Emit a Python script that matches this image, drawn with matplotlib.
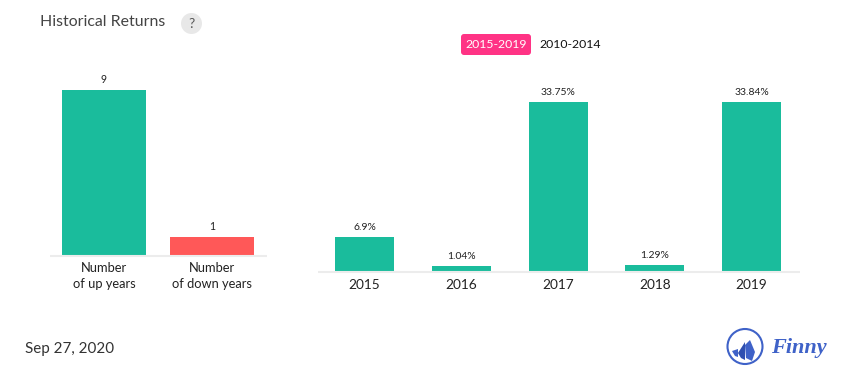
import matplotlib
matplotlib.use("Agg")
import matplotlib.pyplot as plt
from matplotlib.patches import Circle, FancyBboxPatch, Polygon

plt.rcParams['font.family'] = ['Lato', 'DejaVu Sans']

W, H = 855, 382
TEAL = '#1abc9c'
RED = '#ff5858'
PINK = '#ff3385'
AXIS = '#ececec'
DARK = '#222222'

count_labels = ['Number\nof up years', 'Number\nof down years']
count_values = [9, 1]
count_colors = [TEAL, RED]

years = ['2015', '2016', '2017', '2018', '2019']
returns = [6.9, 1.04, 33.75, 1.29, 33.84]
return_labels = ['6.9%', '1.04%', '33.75%', '1.29%', '33.84%']

fig = plt.figure(figsize=(W / 100, H / 100), dpi=100, facecolor='white')


def px_axes(x0, y0, x1, y1):
    return fig.add_axes([x0 / W, 1 - y1 / H, (x1 - x0) / W, (y1 - y0) / H])


def style(ax):
    for s in ['top', 'left', 'right']:
        ax.spines[s].set_visible(False)
    ax.spines['bottom'].set_color(AXIS)
    ax.spines['bottom'].set_linewidth(1.5)
    ax.spines['bottom'].set_capstyle('butt')
    ax.set_yticks([])
    ax.tick_params(axis='x', length=0)
    ax.patch.set_alpha(0)


# Left panel
ax1 = px_axes(50, 70, 267, 255.5)
ax1.bar(range(2), count_values, width=0.778, color=count_colors)
ax1.set_xlim(-0.5, 1.51)
ax1.set_ylim(0, 9 * 185.5 / 165.5)
ax1.set_xticks(range(2), count_labels, fontsize=9.3, color=DARK, linespacing=1.38)
ax1.tick_params(axis='x', pad=5)
style(ax1)
for i, v in enumerate(count_values):
    ax1.annotate(str(v), (i, v), xytext=(0, 5), textcoords='offset pixels',
                 ha='center', va='bottom', fontsize=7.6, color=DARK)

# Right panel
ax2 = px_axes(318, 70, 800, 271.5)
ax2.bar(range(5), returns, width=0.61, color=TEAL)
ax2.set_xlim(-0.48, 4.5)
ax2.set_ylim(0, 33.75 * 201.5 / 169.5)
ax2.set_xticks(range(5), years, fontsize=9.8, color=DARK)
ax2.tick_params(axis='x', pad=5.5)
style(ax2)
for i, v in enumerate(returns):
    ax2.annotate(return_labels[i], (i, v), xytext=(0, 5), textcoords='offset pixels',
                 ha='center', va='bottom', fontsize=7.5, color=DARK)

# Overlay in pixel coordinates
ov = fig.add_axes([0, 0, 1, 1])
ov.set_xlim(0, W)
ov.set_ylim(H, 0)
ov.axis('off')
ov.patch.set_alpha(0)

ov.text(40, 22.5, 'Historical Returns', fontsize=11.4, color='#444444', va='center', ha='left')
ov.add_patch(Circle((191.5, 23.5), 10.5, color='#e8e8e8', lw=0))
ov.text(191.5, 24, '?', fontsize=10, color='#555555', ha='center', va='center')

ov.add_patch(FancyBboxPatch((461, 34), 70, 21, boxstyle='round,pad=0,rounding_size=3',
                            fc=PINK, ec='none', lw=0))
ov.text(496, 44.5, '2015-2019', fontsize=8.8, color='white', ha='center', va='center')
ov.text(570, 44.5, '2010-2014', fontsize=8.8, color='#111111', ha='center', va='center')

ov.text(25, 349.5, 'Sep 27, 2020', fontsize=10.9, color='#333333', va='center', ha='left')

# Finny logo
BLUE = '#3f62c8'
ov.add_patch(Circle((745, 346.5), 17.5, fc='none', ec=BLUE, lw=1.5))
ov.add_patch(Polygon([(732, 351), (738, 349), (738, 357), (735, 356)], fc=BLUE, lw=0))
ov.add_patch(Polygon([(738, 353), (745, 342), (745, 360), (741, 358)], fc='#2f4fb0', lw=0))
ov.add_patch(Polygon([(745, 345), (750, 340), (755, 352), (752, 361), (746, 358)], fc=BLUE, lw=0))
ov.text(798.5, 347.5, 'Finny', fontsize=16, color=BLUE, family='Liberation Serif', style='italic',
        weight='bold', ha='center', va='center')

fig.savefig('out.png', dpi=100)
